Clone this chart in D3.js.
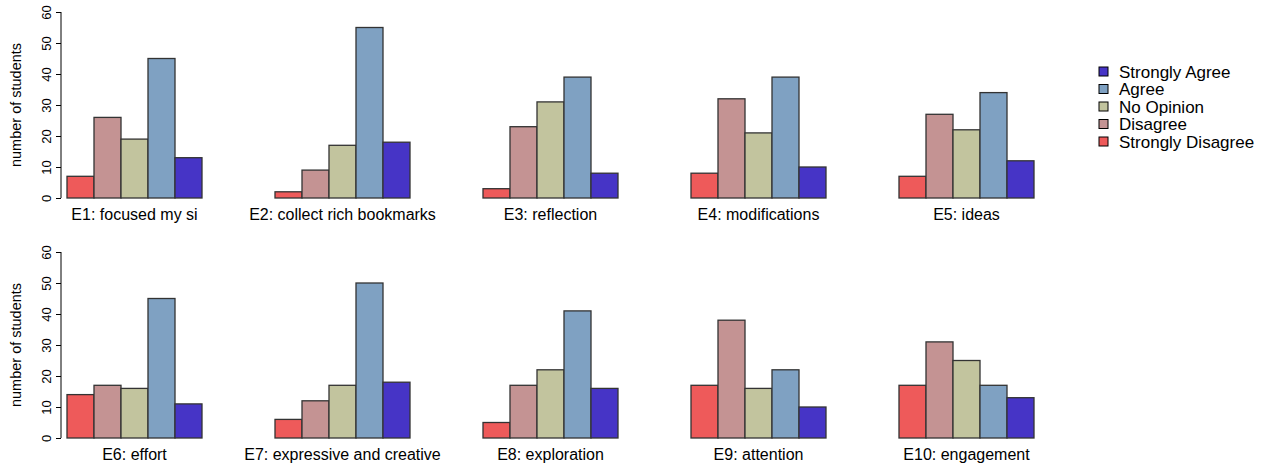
<!DOCTYPE html>
<html>
<head>
<meta charset="utf-8">
<script src="https://cdn.jsdelivr.net/npm/d3@7"></script>
<style>
  html, body { margin: 0; padding: 0; background: #fff; }
  svg { display: block; font-family: "Liberation Sans", Arial, Helvetica, sans-serif; }
</style>
</head>
<body>
<svg id="chart" width="1267" height="467"></svg>
<script>
const questions = [
  "E1: focused my si", "E2: collect rich bookmarks", "E3: reflection", "E4: modifications", "E5: ideas",
  "E6: effort", "E7: expressive and creative", "E8: exploration", "E9: attention", "E10: engagement"
];
const responses = ["Strongly Disagree", "Disagree", "No Opinion", "Agree", "Strongly Agree"];
const stronglyDisagree = [7, 2, 3, 8, 7, 14, 6, 5, 17, 17];
const disagree         = [26, 9, 23, 32, 27, 17, 12, 17, 38, 31];
const noOpinion        = [19, 17, 31, 21, 22, 16, 17, 22, 16, 25];
const agree            = [45, 55, 39, 39, 34, 45, 50, 41, 22, 17];
const stronglyAgree    = [13, 18, 8, 10, 12, 11, 18, 16, 10, 13];
const yTicks = [0, 10, 20, 30, 40, 50, 60];
const colors = ["#EE5A5A", "#C49393", "#C2C49E", "#7FA1C2", "#4634C6"];

const seriesValues = [stronglyDisagree, disagree, noOpinion, agree, stronglyAgree];

const svg = d3.select("#chart");

const colStep = 208, firstX = 67, panelW = 135;
const rowTops = [12, 252], rowH = 186;

questions.forEach((q, i) => {
  const col = i % 5, row = Math.floor(i / 5);
  const x0 = firstX + col * colStep;
  const x = d3.scaleBand().domain(responses).range([x0, x0 + panelW]).padding(0);
  const y = d3.scaleLinear().domain([0, 60]).range([rowTops[row] + rowH, rowTops[row]]);
  const g = svg.append("g");
  const data = responses.map((r, k) => ({ r, v: seriesValues[k][i], c: colors[k] }));
  g.selectAll("rect").data(data).enter().append("rect")
    .attr("x", d => x(d.r))
    .attr("y", d => y(d.v))
    .attr("width", x.bandwidth())
    .attr("height", d => y(0) - y(d.v))
    .attr("fill", d => d.c)
    .attr("stroke", "#333")
    .attr("stroke-width", 1.3);
  g.append("text")
    .attr("x", x0 + panelW / 2)
    .attr("y", y(0) + 22)
    .attr("text-anchor", "middle")
    .attr("font-size", 16)
    .attr("fill", "#000")
    .text(q);

  if (col === 0) {
    const ax = svg.append("g")
      .attr("transform", `translate(61,0)`)
      .call(d3.axisLeft(y).tickValues(yTicks).tickSize(5).tickSizeOuter(0).tickFormat(d3.format("d")));
    ax.select(".domain").attr("stroke", "#000").attr("d", `M0,${y(0)}V${y(60)}`);
    ax.selectAll(".tick line").attr("stroke", "#000");
    ax.selectAll(".tick text")
      .attr("font-size", 13)
      .attr("font-family", "'Liberation Sans', Arial, sans-serif")
      .attr("fill", "#000")
      .attr("x", null).attr("dy", null)
      .attr("text-anchor", "middle")
      .attr("transform", "translate(-10,0) rotate(-90)");
    svg.append("text")
      .attr("transform", `translate(21,${rowTops[row] + rowH / 2}) rotate(-90)`)
      .attr("text-anchor", "middle")
      .attr("font-size", 14.5)
      .attr("fill", "#000")
      .text("number of students");
  }
});

// legend (top = Strongly Agree)
const legendOrder = responses.map((r, k) => ({ r, c: colors[k] })).reverse();
const lg = svg.append("g");
legendOrder.forEach((d, j) => {
  const cy = 71.5 + j * 17.5;
  lg.append("rect").attr("x", 1099).attr("y", cy - 4.5).attr("width", 9).attr("height", 9)
    .attr("fill", d.c).attr("stroke", "#000").attr("stroke-width", 1);
  lg.append("text").attr("x", 1119).attr("y", cy + 6).attr("font-size", 17).attr("fill", "#000").text(d.r);
});
</script>
</body>
</html>
